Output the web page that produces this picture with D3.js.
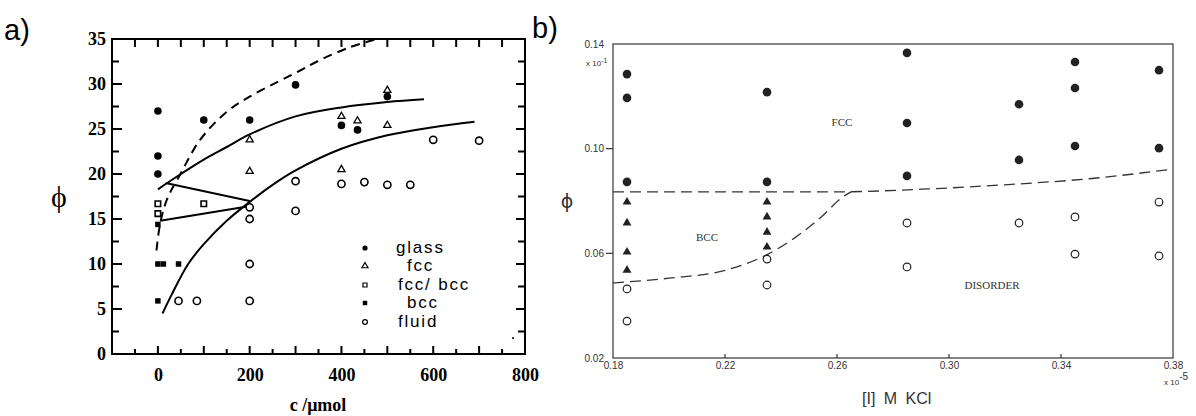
<!DOCTYPE html>
<html>
<head>
<meta charset="utf-8">
<script src="https://cdn.jsdelivr.net/npm/d3@7"></script>
</head>
<body style="margin:0">
<script>
// ---- panel a data (c / umol, phi) ----
const glassA = [[0, 27], [0, 22], [0, 20], [100, 26], [200, 26], [300, 29.9], [400, 25.4], [435, 24.9], [500, 28.6]];
const fccA = [[200, 23.8], [200, 20.3], [400, 26.4], [435, 25.9], [500, 25.4], [400, 20.5], [500, 29.3]];
const fccBccA = [[0, 16.7], [0, 15.6], [100, 16.7]];
const bccA = [[0, 14.4], [0, 10], [12, 10], [45, 10], [0, 5.9]];
const fluidA = [[45, 5.9], [85, 5.9], [200, 5.9], [200, 10], [200, 15], [200, 16.3], [300, 15.9], [300, 19.2],
  [400, 18.9], [450, 19.1], [500, 18.8], [550, 18.8], [600, 23.8], [700, 23.7]];

const dashA = [[-3, 11.5], [5, 14.5], [20, 17.2], [48, 19.9], [92, 23.8], [150, 26.9], [200, 28.6], [260, 30.2],
  [310, 31.5], [347, 32.5], [419, 34.1], [478, 35]];
const upperA = [[0, 18.3], [50, 20], [100, 21.6], [150, 23], [200, 24.4], [300, 26.4], [400, 27.4], [500, 28], [580, 28.3]];
const lowerA = [[10, 4.5], [30, 6.6], [66, 10], [100, 12.2], [150, 14.8], [200, 16.9], [250, 18.8], [300, 20.4],
  [400, 22.8], [500, 24.3], [600, 25.2], [690, 25.8]];
const tieA1 = [[17, 19], [200, 17]];
const tieA2 = [[5, 14.8], [195, 16.4]];

const yTicksA = [0, 5, 10, 15, 20, 25, 30, 35];
const xTicksA = [0, 200, 400, 600, 800];
const legendA = ["glass", "fcc", "fcc/ bcc", "bcc", "fluid"];

// ---- panel b data ([I] x 1e-5 M KCl, phi) ----
const fccB = [[0.185, 0.1285], [0.185, 0.1194], [0.185, 0.0873], [0.235, 0.1216], [0.235, 0.0873],
  [0.285, 0.1366], [0.285, 0.1098], [0.285, 0.0896], [0.325, 0.117], [0.325, 0.0957],
  [0.345, 0.1331], [0.345, 0.1232], [0.345, 0.101], [0.375, 0.130], [0.375, 0.1002]];
const bccB = [[0.185, 0.0796], [0.185, 0.0716], [0.185, 0.0605], [0.185, 0.0536],
  [0.235, 0.0796], [0.235, 0.0739], [0.235, 0.0681], [0.235, 0.0624]];
const disB = [[0.185, 0.0464], [0.185, 0.0341], [0.235, 0.0578], [0.235, 0.0479], [0.285, 0.0716], [0.285, 0.0548],
  [0.325, 0.0716], [0.345, 0.0739], [0.345, 0.0597], [0.375, 0.0796], [0.375, 0.059]];

const bound1B = [[0.18, 0.0835], [0.26, 0.0835], [0.29, 0.0845], [0.32, 0.0862], [0.35, 0.0885], [0.38, 0.0922]];
const bound2B = [[0.18, 0.0487], [0.20, 0.0505], [0.22, 0.0535], [0.235, 0.0595], [0.245, 0.066], [0.255, 0.0745], [0.262, 0.0815], [0.265, 0.0835]];

const yTicksB = [0.02, 0.06, 0.10, 0.14];
const xTicksB = [0.18, 0.22, 0.26, 0.30, 0.34, 0.38];

const svg = d3.select('body')
    .append('svg')
    .attr("width", 1196)
    .attr("height", 416);

svg.append('rect').attr('width', 1196).attr('height', 416).attr('fill', '#fff');

// short tick marks as small filled rects along one side of a frame
function tickRects(g, scale, values, side, pos, len, thick, color) {
    const vert = side === 'left' || side === 'right';
    g.append('g').selectAll('rect').data(values).enter().append('rect')
        .attr('x', d => vert ? Math.min(pos, pos + len) : scale(d) - thick / 2)
        .attr('y', d => vert ? scale(d) - thick / 2 : Math.min(pos, pos + len))
        .attr('width', vert ? Math.abs(len) : thick)
        .attr('height', vert ? thick : Math.abs(len))
        .attr('fill', color);
}

function axisLabels(g, axis, tf) {
    const a = g.append('g').attr('transform', tf).call(axis);
    a.select('.domain').remove();
    a.selectAll('.tick line').remove();
    return a;
}

// ================= panel a =================
const xA = d3.scaleLinear().domain([-100, 800]).range([112, 525]);
const yA = d3.scaleLinear().domain([0, 35]).range([354, 39]);
const gA = svg.append('g');
const serifBold = 'Liberation Serif, Times New Roman, serif';
const [x0A, x1A] = xA.range();
const [y0A, y1A] = yA.range();

svg.append('text').attr('x', 4).attr('y', 40)
    .attr('font-family', 'Liberation Sans, Arial, sans-serif')
    .attr('font-size', 29).text('a)');

let ax = axisLabels(gA, d3.axisLeft(yA).tickValues(yTicksA).tickSize(0).tickPadding(6), `translate(${x0A},0)`);
ax.selectAll('text').attr('font-family', serifBold).attr('font-weight', 'bold').attr('font-size', 18).attr('fill', '#000');
ax = axisLabels(gA, d3.axisBottom(xA).tickValues(xTicksA).tickSize(0).tickPadding(14), `translate(0,${y0A})`);
ax.selectAll('text').attr('font-family', serifBold).attr('font-weight', 'bold').attr('font-size', 18).attr('fill', '#000');

gA.append('rect')
    .attr('x', x0A).attr('y', y1A)
    .attr('width', x1A - x0A).attr('height', y0A - y1A)
    .attr('fill', 'none').attr('stroke', '#000').attr('stroke-width', 2);

gA.append('text').attr('x', 59).attr('y', 207).attr('text-anchor', 'middle')
    .attr('font-family', 'Liberation Serif, Times New Roman, serif').attr('font-size', 30).text('ϕ');
gA.append('text').attr('x', 318).attr('y', 411).attr('text-anchor', 'middle')
    .attr('font-family', serifBold).attr('font-weight', 'bold').attr('font-size', 18).text('c /μmol');

const lineA = d3.line().x(d => xA(d[0])).y(d => yA(d[1])).curve(d3.curveCatmullRom);
gA.append('path').datum(dashA).attr('d', lineA).attr('fill', 'none').attr('stroke', '#000')
    .attr('stroke-width', 2).attr('stroke-dasharray', '9,6');
[upperA, lowerA, tieA1, tieA2].forEach(arr => {
    gA.append('path').datum(arr).attr('d', lineA).attr('fill', 'none').attr('stroke', '#000').attr('stroke-width', 2);
});

const triA = d3.symbol().type(d3.symbolTriangle).size(22);
const sqA = d3.symbol().type(d3.symbolSquare).size(30);

gA.selectAll('.glassA').data(glassA).enter().append('circle')
    .attr('cx', d => xA(d[0])).attr('cy', d => yA(d[1])).attr('r', 3.8).attr('fill', '#000');
gA.selectAll('.fccA').data(fccA).enter().append('path')
    .attr('d', triA).attr('transform', d => `translate(${xA(d[0])},${yA(d[1])})`)
    .attr('fill', '#fff').attr('stroke', '#000').attr('stroke-width', 1.3);
gA.selectAll('.fbA').data(fccBccA).enter().append('path')
    .attr('d', sqA).attr('transform', d => `translate(${xA(d[0])},${yA(d[1])})`)
    .attr('fill', '#fff').attr('stroke', '#000').attr('stroke-width', 1.6);
gA.selectAll('.bccA').data(bccA).enter().append('path')
    .attr('d', sqA).attr('transform', d => `translate(${xA(d[0])},${yA(d[1])})`)
    .attr('fill', '#000');
gA.selectAll('.fluidA').data(fluidA).enter().append('circle')
    .attr('cx', d => xA(d[0])).attr('cy', d => yA(d[1])).attr('r', 3.6)
    .attr('fill', '#fff').attr('stroke', '#000').attr('stroke-width', 1.6);

// legend
const legY = [248, 266, 285, 303, 322];
const legX = [396, 407, 398, 407, 398];
const legG = gA.append('g');
legG.append('circle').attr('cx', 365).attr('cy', legY[0]).attr('r', 2.6).attr('fill', '#000');
legG.append('path').attr('d', d3.symbol().type(d3.symbolTriangle).size(16))
    .attr('transform', `translate(365,${legY[1]})`).attr('fill', '#fff').attr('stroke', '#000').attr('stroke-width', 1.2);
legG.append('path').attr('d', d3.symbol().type(d3.symbolSquare).size(16))
    .attr('transform', `translate(365,${legY[2]})`).attr('fill', '#fff').attr('stroke', '#000').attr('stroke-width', 1.2);
legG.append('path').attr('d', d3.symbol().type(d3.symbolSquare).size(20))
    .attr('transform', `translate(365,${legY[3]})`).attr('fill', '#000');
legG.append('circle').attr('cx', 365).attr('cy', legY[4]).attr('r', 2.4)
    .attr('fill', '#fff').attr('stroke', '#000').attr('stroke-width', 1.2);
legG.selectAll('text').data(legendA).enter().append('text')
    .attr('x', (d, i) => legX[i]).attr('y', (d, i) => legY[i] + 5)
    .attr('font-family', 'Liberation Sans, Arial, sans-serif').attr('font-size', 17)
    .attr('letter-spacing', 1.8).text(d => d);
legG.append('circle').attr('cx', 513).attr('cy', 338).attr('r', 1).attr('fill', '#000');

// ================= panel b =================
const xB = d3.scaleLinear().domain([0.18, 0.38]).range([613, 1173]);
const yB = d3.scaleLinear().domain([0.02, 0.14]).range([358, 44]);
const gB = svg.append('g');
const ink = '#222';
const smallFont = 'Liberation Sans, Arial, sans-serif';
const [x0B, x1B] = xB.range();
const [y0B, y1B] = yB.range();

svg.append('text').attr('x', 532).attr('y', 38)
    .attr('font-family', 'Liberation Sans, Arial, sans-serif')
    .attr('font-size', 29).text('b)');

ax = axisLabels(gB, d3.axisLeft(yB).tickValues(yTicksB).tickSize(0).tickPadding(9).tickFormat(d3.format('.2f')), `translate(${x0B},0)`);
ax.selectAll('text').attr('font-family', smallFont).attr('font-size', 10).attr('fill', '#333');
ax = axisLabels(gB, d3.axisBottom(xB).tickValues(xTicksB).tickSize(0).tickPadding(4).tickFormat(d3.format('.2f')), `translate(0,${y0B})`);
ax.selectAll('text').attr('font-family', smallFont).attr('font-size', 10).attr('fill', '#333');

gB.append('rect')
    .attr('x', x0B).attr('y', y1B)
    .attr('width', x1B - x0B).attr('height', y0B - y1B)
    .attr('fill', 'none').attr('stroke', '#444').attr('stroke-width', 1.3);

const expB1 = gB.append('text').attr('x', 586).attr('y', 66)
    .attr('font-family', smallFont).attr('font-size', 8).attr('fill', '#333').text('x 10');
expB1.append('tspan').attr('dy', -3).attr('font-size', 7).text('-1');
const expB2 = gB.append('text').attr('x', 1164).attr('y', 385)
    .attr('font-family', smallFont).attr('font-size', 8).attr('fill', '#333').text('x 10');
expB2.append('tspan').attr('dy', -5).attr('font-size', 10).text('-5');

gB.append('text').attr('x', 567).attr('y', 208).attr('text-anchor', 'middle')
    .attr('font-family', 'DejaVu Sans, sans-serif').attr('font-size', 19).attr('fill', '#333').text('ϕ');
gB.append('text').attr('x', 862).attr('y', 404)
    .attr('font-family', smallFont).attr('font-size', 16).attr('fill', '#333')
    .attr('word-spacing', 4).text('[I] M KCl');

const serifSm = 'Liberation Serif, Times New Roman, serif';
gB.append('text').attr('x', 842).attr('y', 126).attr('text-anchor', 'middle')
    .attr('font-family', serifSm).attr('font-size', 11).attr('fill', '#333').text('FCC');
gB.append('text').attr('x', 707).attr('y', 241).attr('text-anchor', 'middle')
    .attr('font-family', serifSm).attr('font-size', 11).attr('fill', '#333').text('BCC');
gB.append('text').attr('x', 992).attr('y', 289).attr('text-anchor', 'middle')
    .attr('font-family', serifSm).attr('font-size', 11).attr('fill', '#333').text('DISORDER');

const lineB = d3.line().x(d => xB(d[0])).y(d => yB(d[1])).curve(d3.curveMonotoneX);
[bound1B, bound2B].forEach(arr => {
    gB.append('path').datum(arr).attr('d', lineB).attr('fill', 'none').attr('stroke', '#333')
        .attr('stroke-width', 1.3).attr('stroke-dasharray', '11,6');
});

gB.selectAll('.fccB').data(fccB).enter().append('circle')
    .attr('cx', d => xB(d[0])).attr('cy', d => yB(d[1])).attr('r', 4.3).attr('fill', ink);
gB.selectAll('.bccB').data(bccB).enter().append('path')
    .attr('d', d3.symbol().type(d3.symbolTriangle).size(34))
    .attr('transform', d => `translate(${xB(d[0])},${yB(d[1])})`).attr('fill', ink);
gB.selectAll('.disB').data(disB).enter().append('circle')
    .attr('cx', d => xB(d[0])).attr('cy', d => yB(d[1])).attr('r', 3.8)
    .attr('fill', '#fff').attr('stroke', ink).attr('stroke-width', 1.2);

// ---- tick marks (filled rects), drawn last ----
const tk = svg.append('g').attr('class', 'frame-ticks');
const yMajorA = d3.range(0, 35.1, 5);
const yMinorA = d3.range(2.5, 35, 5);
const xMajorA = d3.range(-100, 801, 100);
const xMinorA = d3.range(-50, 800, 100);
tickRects(tk, yA, yMajorA, 'left', x0A, 10, 2, '#000');
tickRects(tk, yA, yMinorA, 'left', x0A, 7, 2, '#000');
tickRects(tk, yA, yMajorA, 'right', x1A, -9, 2, '#000');
tickRects(tk, yA, yMinorA, 'right', x1A, -7, 2, '#000');
tickRects(tk, xA, xMajorA, 'bottom', y0A, -8, 2, '#000');
tickRects(tk, xA, xMinorA, 'bottom', y0A, -5, 2, '#000');
tickRects(tk, xA, xMajorA, 'top', y1A, 8, 2, '#000');
tickRects(tk, xA, xMinorA, 'top', y1A, 8, 2, '#000');
tickRects(tk, yB, [0.06, 0.10], 'left', x0B, -7, 1.2, '#333');
tickRects(tk, xB, xTicksB.slice(1, -1), 'bottom', y0B, -4, 1.2, '#333');
</script>
</body>
</html>
